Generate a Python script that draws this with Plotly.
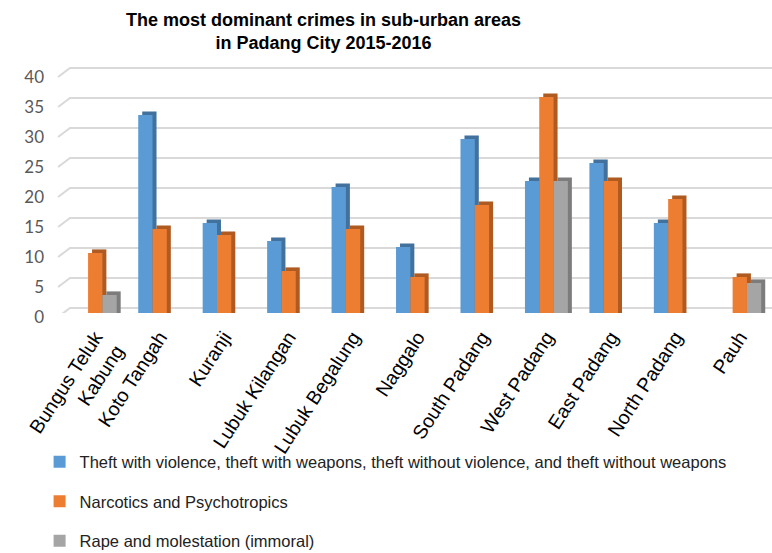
import plotly.graph_objects as go

categories = ["Bungus Teluk<br>Kabung", "Koto Tangah", "Kuranji", "Lubuk Kilangan", "Lubuk Begalung",
              "Naggalo", "South Padang", "West Padang", "East Padang", "North Padang", "Pauh"]
theft = [None, 33, 15, 12, 21, 11, 29, 22, 25, 15, None]
narcotics = [10, 14, 13, 7, 14, 6, 18, 36, 22, 19, 6]
rape = [3, None, None, None, None, None, None, 22, None, None, 5]
series_names = ["Theft with violence, theft with weapons, theft without violence, and theft without weapons",
                "Narcotics and Psychotropics",
                "Rape and molestation (immoral)"]
y_ticks = [0, 5, 10, 15, 20, 25, 30, 35, 40]
title_text = "<b>The most dominant crimes in sub-urban areas<br>in Padang City 2015-2016</b>"

front_colors = ["#5b9bd5", "#ed7d31", "#a5a5a5"]
side_colors = ["#41719c", "#ae5a21", "#7c7c7c"]
offsets = [-0.333, -0.111, 0.111]
bar_w = 0.222
dx = 0.062   # depth in category units
dy = 0.6     # depth in value units

fig = go.Figure()
all_series = [theft, narcotics, rape]

# depth (side/top faces)
for vals, col, off in zip(all_series, side_colors, offsets):
    fig.add_trace(go.Bar(
        x=categories, y=[(v + dy) if v is not None else None for v in vals],
        base=0, width=bar_w, offset=off + dx,
        marker=dict(color=col, line=dict(width=0)),
        showlegend=False, hoverinfo="skip"))

# front faces
for i, (vals, col, off, name) in enumerate(zip(all_series, front_colors, offsets, series_names)):
    fig.add_trace(go.Bar(
        x=categories, y=vals, width=bar_w, offset=off, name=name,
        marker=dict(color=col, line=dict(width=0)),
        legendgroup=str(i)))

# perspective gridlines
shapes = []
for v in y_ticks:
    shapes.append(dict(type="path", xref="paper", yref="y",
                       path=f"M -0.007,{v - 0.67} L 0.0099,{v + 0.83} L 1,{v + 0.83}",
                       line=dict(color="#d9d9d9", width=2), layer="below"))

fig.update_layout(
    width=772, height=553,
    margin=dict(l=63, r=0, t=64, b=240, autoexpand=False),
    paper_bgcolor="white", plot_bgcolor="white",
    barmode="overlay",
    font=dict(family="Liberation Sans, Arial"),
    shapes=shapes,
    annotations=[dict(text=title_text, xref="paper", yref="paper", x=0.368, y=1.225,
                      xanchor="center", yanchor="top", showarrow=False, align="center",
                      font=dict(family="Liberation Sans, Arial", size=18, color="black"))],
    xaxis=dict(tickangle=-57, tickfont=dict(size=19.5, color="black"), ticklabelstandoff=8,
               showgrid=False, showline=False, zeroline=False, ticks="", automargin=False),
    yaxis=dict(range=[0, 41.5], tickvals=y_ticks, showgrid=False, zeroline=False, showline=False,
               tickfont=dict(family="Lato, Liberation Sans", size=17, color="#595959"),
               ticks="", ticklabelstandoff=18, ticklabelshift=4, automargin=False),
    legend=dict(orientation="v", x=-0.033, xanchor="left", yref="container", y=0.196, yanchor="top",
                font=dict(size=16.5, color="#222222"), tracegroupgap=15,
                itemwidth=30, bgcolor="rgba(0,0,0,0)"),
)

fig.write_html("out.html")
